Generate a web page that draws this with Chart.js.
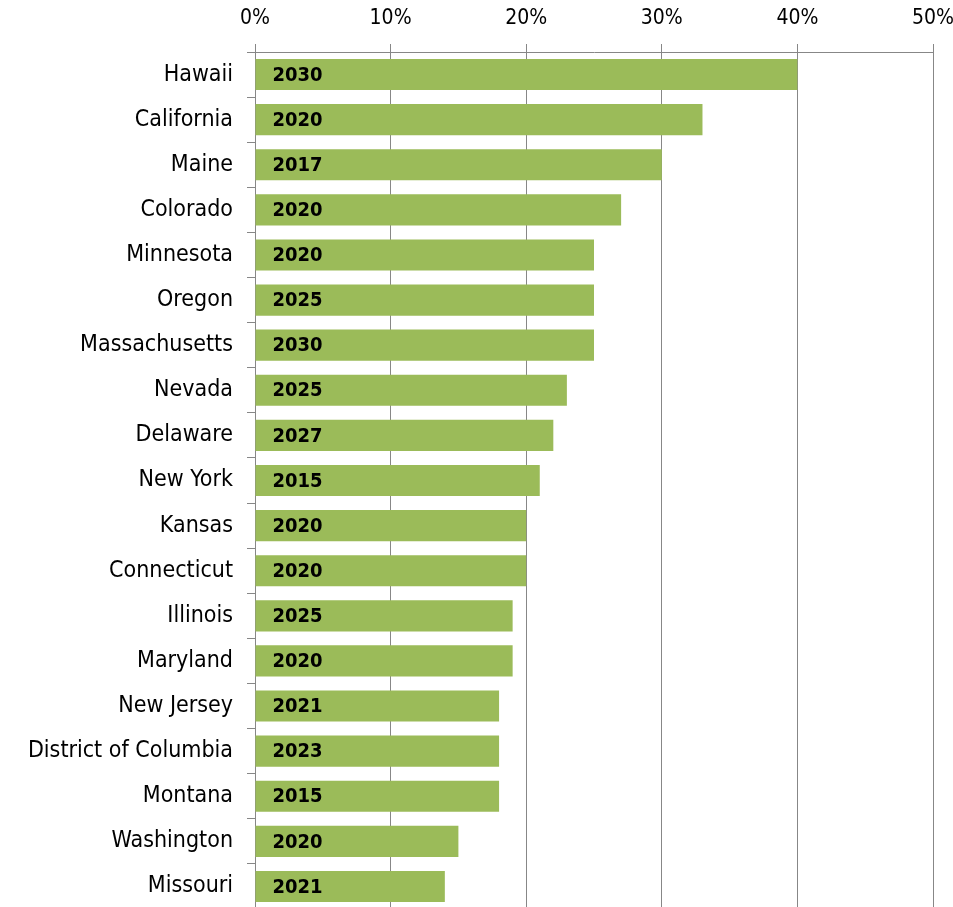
<!DOCTYPE html>
<html>
<head>
<meta charset="utf-8">
<script src="https://cdn.jsdelivr.net/npm/chart.js@4/dist/chart.umd.min.js"></script>
<style>
  html, body { margin: 0; padding: 0; background: #fff; overflow: hidden; }
</style>
</head>
<body>
<canvas id="rpsChart" width="953" height="910"></canvas>
<script>
var states = ['Hawaii', 'California', 'Maine', 'Colorado', 'Minnesota', 'Oregon', 'Massachusetts', 'Nevada', 'Delaware', 'New York', 'Kansas', 'Connecticut', 'Illinois', 'Maryland', 'New Jersey', 'District of Columbia', 'Montana', 'Washington', 'Missouri'];
var targets = [40, 33, 30, 27, 25, 25, 25, 23, 22, 21, 20, 20, 19, 19, 18, 18, 18, 15, 14];
var targetYears = ['2030', '2020', '2017', '2020', '2020', '2025', '2030', '2025', '2027', '2015', '2020', '2020', '2025', '2020', '2021', '2023', '2015', '2020', '2021'];
var xTicks = [0, 10, 20, 30, 40, 50];

var fontFamily = '"DejaVu Sans Condensed", "DejaVu Sans", Verdana, sans-serif';

// write the target year inside each bar, near its left end
var yearLabels = {
  id: 'yearLabels',
  afterDatasetsDraw: function(chart) {
    var ctx = chart.ctx;
    var meta = chart.getDatasetMeta(0);
    ctx.save();
    ctx.font = 'bold 20px ' + fontFamily;
    ctx.fillStyle = '#000';
    ctx.textBaseline = 'middle';
    ctx.textAlign = 'left';
    meta.data.forEach(function(bar, i) {
      ctx.fillText(targetYears[i], bar.base + 17, bar.y + 1);
    });
    ctx.restore();
  }
};

var ctx = document.getElementById('rpsChart').getContext('2d');
var rpsChart = new Chart(ctx, {
  type: 'bar',
  data: {
    labels: states,
    datasets: [{
      data: targets,
      backgroundColor: '#9bbb59',
      borderWidth: 0,
      barPercentage: 0.69,
      categoryPercentage: 1
    }]
  },
  options: {
    indexAxis: 'y',
    responsive: false,
    animation: false,
    layout: { padding: { left: 0, right: 20, top: 0, bottom: 1 } },
    plugins: {
      legend: { display: false },
      tooltip: { enabled: false }
    },
    scales: {
      x: {
        position: 'top',
        min: 0,
        max: 50,
        afterBuildTicks: function(scale) {
          scale.ticks = xTicks.map(function(v) { return { value: v }; });
        },
        afterFit: function(scale) {
          scale.height = 52;
          scale.paddingLeft = 0;
          scale.paddingRight = 0;
        },
        grid: { color: '#878787', lineWidth: 1, tickLength: 8 },
        border: { color: '#878787' },
        ticks: {
          color: '#000',
          padding: 13,
          font: { family: fontFamily, size: 21 },
          callback: function(v) { return v + '%'; }
        }
      },
      y: {
        afterFit: function(scale) {
          scale.width = 255;
          scale.paddingTop = 0;
          scale.paddingBottom = 0;
        },
        grid: { offset: true, drawOnChartArea: false, color: '#878787', tickLength: 8 },
        border: { color: '#878787' },
        ticks: {
          color: '#000',
          padding: 14,
          autoSkip: false,
          font: { family: fontFamily, size: 23 }
        }
      }
    }
  },
  plugins: [yearLabels]
});
</script>
</body>
</html>
